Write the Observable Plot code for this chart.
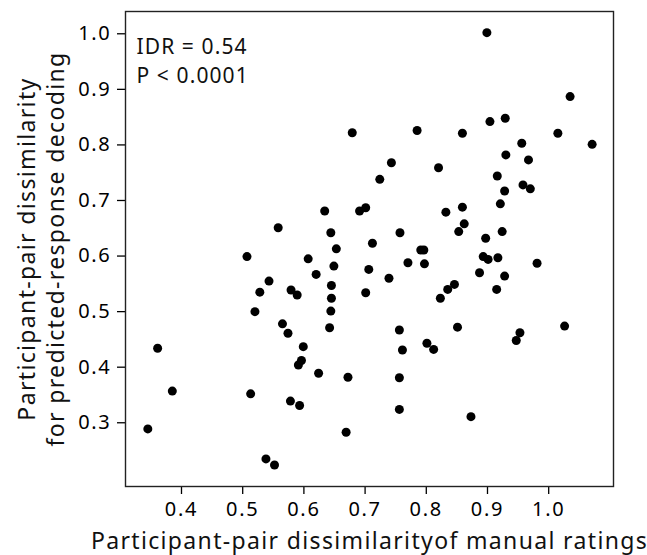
<!DOCTYPE html>
<html>
<head>
<meta charset="utf-8">
<script src="https://cdn.jsdelivr.net/npm/d3@7"></script>
<script src="https://cdn.jsdelivr.net/npm/@observablehq/plot@0.6"></script>
<style>
  html, body { margin: 0; padding: 0; background: #fff; }
</style>
</head>
<body>
<div id="chart"></div>
<script>
// Participant-pair dissimilarity of manual ratings (x)
const manualRatings = [
  0.679, 0.634, 0.691, 0.701, 0.558, 0.644, 0.653, 0.507, 0.607, 0.649,
  0.620, 0.543, 0.645, 0.528, 0.579, 0.589, 0.645, 0.520, 0.644, 0.565,
  0.642, 0.574, 0.361, 0.599, 0.596, 0.591, 0.624, 0.672, 0.385, 0.513,
  0.578, 0.593, 0.345, 0.669, 0.538, 0.552, 0.899, 1.035, 0.785, 0.859,
  0.904, 0.929, 1.015, 1.071, 0.956, 0.743, 0.930, 0.967, 0.820, 0.724,
  0.916, 0.958, 0.970, 0.928, 0.921, 0.832, 0.859, 0.862, 0.853, 0.924,
  0.757, 0.897, 0.712, 0.791, 0.796, 0.770, 0.797, 0.893, 0.901, 0.917,
  0.981, 0.706, 0.887, 0.928, 0.739, 0.701, 0.846, 0.835, 0.823, 0.915,
  0.756, 0.851, 1.026, 0.953, 0.947, 0.801, 0.812, 0.761, 0.756, 0.756,
  0.873
];
// Participant-pair dissimilarity for predicted-response decoding (y)
const decoding = [
  0.822, 0.681, 0.681, 0.687, 0.651, 0.642, 0.613, 0.599, 0.595, 0.582,
  0.567, 0.555, 0.547, 0.535, 0.539, 0.530, 0.524, 0.500, 0.501, 0.478,
  0.471, 0.461, 0.434, 0.437, 0.412, 0.404, 0.389, 0.382, 0.357, 0.352,
  0.339, 0.331, 0.289, 0.283, 0.235, 0.224, 1.002, 0.887, 0.826, 0.821,
  0.842, 0.848, 0.821, 0.801, 0.803, 0.768, 0.782, 0.773, 0.759, 0.738,
  0.744, 0.728, 0.721, 0.717, 0.694, 0.679, 0.688, 0.658, 0.644, 0.644,
  0.642, 0.632, 0.623, 0.611, 0.611, 0.588, 0.586, 0.599, 0.594, 0.597,
  0.587, 0.576, 0.570, 0.564, 0.560, 0.534, 0.549, 0.540, 0.524, 0.540,
  0.467, 0.472, 0.474, 0.462, 0.448, 0.443, 0.432, 0.431, 0.381, 0.324,
  0.311
];
const xTicks = [0.4, 0.5, 0.6, 0.7, 0.8, 0.9, 1.0];
const yTicks = [0.3, 0.4, 0.5, 0.6, 0.7, 0.8, 0.9, 1.0];
const xTitle = "Participant-pair dissimilarityof manual ratings";
const yTitleLines = ["Participant-pair dissimilarity", "for predicted-response decoding"];
const annotationLines = ["IDR = 0.54", "P < 0.0001"];

const points = manualRatings.map((x, i) => ({x, y: decoding[i]}));
const font = "'Noto Sans', 'DejaVu Sans', sans-serif";

const chart = Plot.plot({
  width: 647,
  height: 555,
  marginLeft: 125,
  marginRight: 34,
  marginTop: 11,
  marginBottom: 69,
  style: {fontFamily: font, fontSize: "20px", background: "#fff", color: "#000"},
  x: {domain: [0.3085, 1.1059]},
  y: {domain: [0.1853, 1.0401]},
  marks: [
    Plot.axisX({ticks: xTicks, tickFormat: d3.format(".1f"), tickSize: 8, tickPadding: 7, label: null, fontSize: 20, strokeWidth: 1.3}),
    Plot.axisY({ticks: yTicks, tickFormat: d3.format(".1f"), tickSize: 8, tickPadding: 6, label: null, fontSize: 20, strokeWidth: 1.3}),
    Plot.frame({stroke: "#222", strokeWidth: 1.4}),
    Plot.dot(points, {x: "x", y: "y", r: 4.5, fill: "#000", stroke: "none"}),
    Plot.text([annotationLines.join("\n")], {
      frameAnchor: "top-left", textAnchor: "start", lineAnchor: "top",
      dx: 11, dy: 22, fontSize: 21, lineHeight: 1.38, fill: "#111"
    }),
    Plot.text([xTitle], {
      frameAnchor: "bottom", textAnchor: "middle", lineAnchor: "middle",
      dy: 55, fontSize: 23, fill: "#111"
    }),
    Plot.text([yTitleLines.join("\n")], {
      frameAnchor: "left", textAnchor: "middle", lineAnchor: "middle",
      rotate: -90, dx: -85, fontSize: 23, lineHeight: 1.235, fill: "#111"
    })
  ]
});
document.getElementById("chart").appendChild(chart);

// widen the letterforms' spacing to match the reference's broader typeface
const spacingBySize = {20: 1.7, 21: 1.1, 23: 1.35};
chart.querySelectorAll("text").forEach((t) => {
  const size = Math.round(parseFloat(getComputedStyle(t).fontSize));
  const ls = spacingBySize[size];
  if (ls != null) {
    t.setAttribute("letter-spacing", ls);
    t.style.letterSpacing = ls + "px";
  }
});
</script>
</body>
</html>
